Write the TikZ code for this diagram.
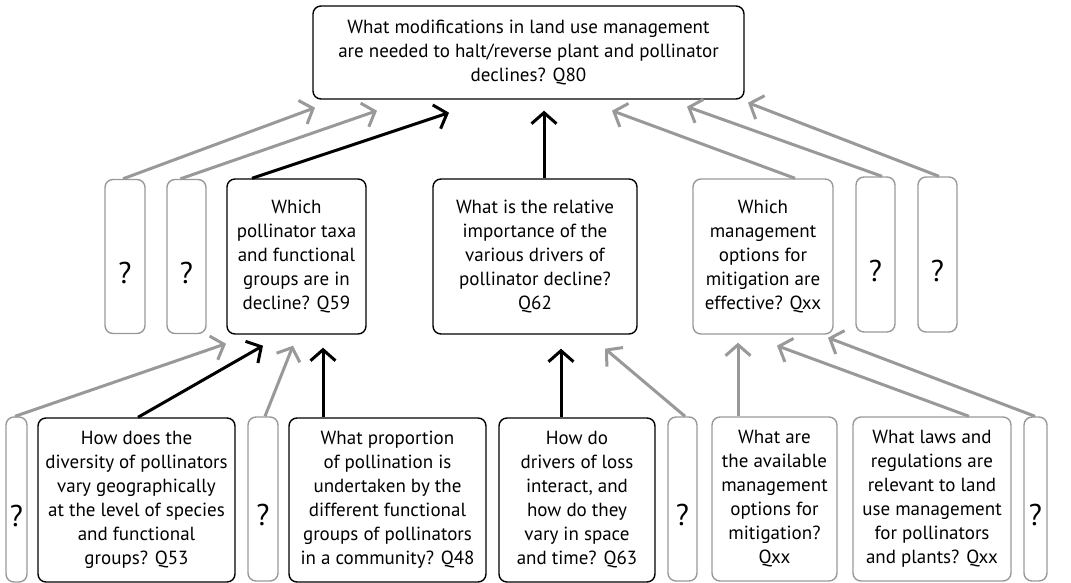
\documentclass[tikz,border=0pt]{standalone}
\usepackage{fontspec}
\setmainfont{PT Sans}
\usetikzlibrary{arrows.meta,calc}

\begin{document}
\begin{tikzpicture}[
  x=1pt, y=-1pt, font=\fontsize{19}{24}\selectfont,
  qbox/.style={draw, rounded corners=8pt, line width=1.4pt, align=center,
               inner sep=0pt},
  qgray/.style={qbox, draw=black!40},
  unk/.style={qgray, label={[yshift=-16pt, font=\fontsize{30}{34}\selectfont]center:?}},
  blk/.style={line width=3pt, -{Straight Barb[length=11pt, width=25pt]}},
  gry/.style={blk, draw=black!40}
]
\useasboundingbox (0,0) rectangle (1071,582);

%--- top question ------------------------------------------------------------
\node[qbox, minimum width=431pt, minimum height=93pt] (t80) at (528.5,52.5)
  {What modifications in land use management\\
   are needed to halt/reverse plant and pollinator\\ declines? Q80};

%--- middle row --------------------------------------------------------------
\node[unk, minimum width=40pt, minimum height=154pt] (m1) at (125,256.5) {};
\node[unk, minimum width=39pt, minimum height=154pt] (m2) at (186.5,256.5) {};
\node[qbox, minimum width=139pt, minimum height=155pt] (q59) at (296.5,256.5)
  {Which\\ pollinator taxa\\ and functional\\ groups are in\\ decline? Q59};
\node[qbox, minimum width=204pt, minimum height=155pt] (q62) at (535,256.5)
  {What is the relative\\ importance of the\\ various drivers of\\
   pollinator decline?\\ Q62};
\node[qgray, minimum width=140pt, minimum height=155pt] (mq) at (763,256.5)
  {Which\\ management\\ options for\\ mitigation are\\ effective? Qxx};
\node[unk, minimum width=39pt, minimum height=155pt] (m3) at (875.5,254.5) {};
\node[unk, minimum width=39pt, minimum height=155pt] (m4) at (937.5,254.5) {};

%--- bottom row --------------------------------------------------------------
\node[unk, minimum width=21pt, minimum height=165pt] (b1) at (16.5,499.5) {};
\node[qbox, minimum width=197pt, minimum height=164pt] (q53) at (136.5,500)
  {How does the\\ diversity of pollinators\\ vary geographically\\
   at the level of species\\ and functional\\ groups? Q53};
\node[unk, minimum width=30pt, minimum height=164pt] (b2) at (263,499) {};
\node[qbox, minimum width=197pt, minimum height=164pt] (q48) at (387.5,500)
  {What proportion\\ of pollination is\\ undertaken by the\\
   different functional\\ groups of pollinators\\ in a community? Q48};
\node[qbox, minimum width=156pt, minimum height=164pt] (q63) at (577,500)
  {How do\\ drivers of loss\\ interact, and\\ how do they\\
   vary in space\\ and time? Q63};
\node[unk, minimum width=29pt, minimum height=164pt] (b3) at (682.5,499) {};
\node[qgray, minimum width=125pt, minimum height=164pt] (bq) at (774.5,499)
  {What are\\ the available\\ management\\ options for\\ mitigation?\\ Qxx};
\node[qgray, minimum width=158pt, minimum height=164pt] (law) at (932,499)
  {What laws and\\ regulations are\\ relevant to land\\ use management\\
   for pollinators\\ and plants? Qxx};
\node[unk, minimum width=23pt, minimum height=164pt] (b4) at (1035.5,499) {};

%--- arrows to top question --------------------------------------------------
\draw[gry] ([xshift=-2pt]m1.north) -- ([shift={(-213.5,8)}]t80.south);
\draw[gry] ([xshift=-6pt]m2.north) -- ([shift={(-151.5,11)}]t80.south);
\draw[blk] ([xshift=-44.5pt]q59.north) -- ([shift={(-79.5,13)}]t80.south);
\draw[blk] ([xshift=9pt]q62.north) -- ([shift={(15.5,11)}]t80.south);
\draw[gry] ([xshift=32pt]mq.north) -- ([shift={(83.5,11)}]t80.south);
\draw[gry] ([xshift=6.5pt]m3.north) -- ([shift={(158.5,7)}]t80.south);
\draw[gry] ([xshift=1.5pt]m4.north) -- ([shift={(219.5,3)}]t80.south);

%--- arrows to middle row ----------------------------------------------------
\draw[gry] ([xshift=-1.5pt]b1.north) -- ([shift={(-70.5,9)}]q59.south);
\draw[blk] ([xshift=1.5pt]q53.north) -- ([shift={(-33.5,11)}]q59.south);
\draw[gry] ([xshift=2pt]b2.north) -- ([shift={(-3.5,11)}]q59.south);
\draw[blk] ([xshift=-64.5pt]q48.north) -- ([shift={(26.5,13)}]q59.south);
\draw[blk] ([xshift=-16pt]q63.north) -- ([shift={(26,14)}]q62.south);
\draw[gry] ([xshift=2.5pt]b3.north) -- ([shift={(70,14)}]q62.south);
\draw[gry] ([xshift=-36.5pt]bq.north) -- ([shift={(-25,8)}]mq.south);
\draw[gry] ([xshift=37pt]law.north) -- ([shift={(14,11)}]mq.south);
\draw[gry] ([xshift=-0.5pt]b4.north) -- ([shift={(65,3)}]mq.south);
\end{tikzpicture}
\end{document}
